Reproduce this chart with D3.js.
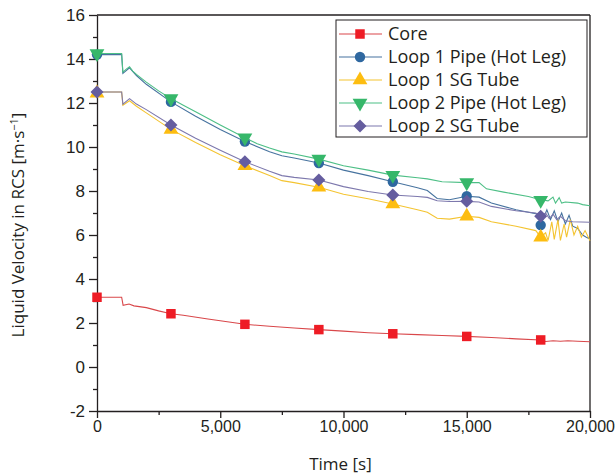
<!DOCTYPE html>
<html>
<head>
<meta charset="utf-8">
<script src="https://cdn.jsdelivr.net/npm/d3@7"></script>
<style>
  body { margin: 0; background: #fff; }
  svg { font-family: "Open Sans", "Noto Sans", sans-serif; }
  .axis path, .axis line { stroke: #231f20; stroke-width: 1.3; }
  .axis text { font-size: 17px; fill: #231f20; }
  .axis.x text { font-size: 16px; }
  .label { font-size: 17px; fill: #231f20; }
  .legend text { font-size: 18px; fill: #231f20; }
</style>
</head>
<body>
<svg width="615" height="476"></svg>
<script>
// time [s] / velocity [m/s] pairs
const core = [[0,3.17],[1000,3.17],[1060,2.8],[1300,2.86],[1500,2.78],[2000,2.7],[2500,2.55],[3000,2.42],[3500,2.35],
  [4500,2.18],[5000,2.1],[6000,1.94],[7000,1.85],[8000,1.77],[9000,1.7],[10000,1.63],[11000,1.56],[12000,1.51],
  [13000,1.47],[14000,1.43],[15000,1.39],[16000,1.34],[17000,1.28],[18000,1.23],[18200,1.16],[18500,1.19],
  [18800,1.17],[19100,1.19],[19500,1.17],[20000,1.15]];
const loop1Pipe = [[0,14.2],[1000,14.2],[1050,13.35],[1320,13.6],[1600,13.25],[2000,12.85],[3000,12.05],[4000,11.4],
  [5000,10.8],[6000,10.25],[7000,9.78],[7500,9.6],[8000,9.5],[9000,9.27],[10000,8.95],[11000,8.7],[12000,8.42],
  [13000,8.15],[13400,8.02],[13800,7.66],[14300,7.6],[15000,7.76],[15500,7.72],[16000,7.45],[17000,7.15],
  [17900,6.95],[18000,6.45],[18250,7.15],[18400,6.7],[18550,7.1],[18700,6.6],[18850,7.0],[19000,6.5],[19150,6.9],
  [19300,6.4],[19500,6.3],[19700,6.0],[19850,5.9],[20000,5.82]];
const loop1SG = [[0,12.5],[1000,12.5],[1050,11.9],[1320,12.1],[1600,11.85],[2000,11.55],[3000,10.8],[4000,10.2],
  [5000,9.65],[6000,9.15],[7000,8.7],[7500,8.47],[8000,8.38],[9000,8.17],[10000,7.85],[11000,7.65],[12000,7.41],
  [13000,7.15],[13400,7.03],[13800,6.76],[14300,6.72],[15000,6.85],[15500,6.8],[16000,6.6],[17000,6.4],[17800,6.2],
  [18000,5.9],[18200,6.1],[18300,5.75],[18450,6.6],[18550,5.8],[18700,6.7],[18800,5.75],[18950,6.5],[19050,5.9],
  [19200,6.7],[19350,6.0],[19500,6.4],[19650,5.9],[19800,6.2],[20000,5.74]];
const loop2Pipe = [[0,14.25],[1000,14.25],[1050,13.4],[1200,13.55],[1320,13.65],[1450,13.45],[1600,13.3],[2000,12.95],
  [2500,12.55],[3000,12.2],[3500,11.9],[4000,11.6],[5000,11.0],[6000,10.42],[6500,10.15],[7000,9.95],[7500,9.78],
  [8000,9.68],[9000,9.45],[10000,9.15],[11000,8.95],[12000,8.72],[13000,8.6],[13400,8.55],[14000,8.42],[15000,8.38],
  [15500,8.38],[15800,8.1],[16500,7.95],[17500,7.75],[18000,7.6],[18300,7.55],[18500,7.72],[18600,7.45],
  [18750,7.7],[18850,7.45],[19000,7.5],[19500,7.45],[19700,7.38],[20000,7.33]];
const loop2SG = [[0,12.5],[1000,12.5],[1050,11.95],[1320,12.2],[1600,11.95],[2000,11.7],[3000,11.0],[4000,10.4],
  [5000,9.85],[6000,9.33],[7000,8.9],[7500,8.7],[8000,8.62],[9000,8.5],[10000,8.2],[11000,7.98],[12000,7.82],
  [13000,7.75],[13400,7.71],[13800,7.56],[14300,7.52],[15000,7.53],[15500,7.5],[16000,7.3],[17000,7.1],[17800,7.0],
  [18000,6.85],[18200,7.0],[18350,6.75],[18500,6.95],[18650,6.7],[18800,6.85],[19000,6.65],[19300,6.6],[20000,6.58]];

// symbols every 3000 s
const markerTimes = [0, 3000, 6000, 9000, 12000, 15000, 18000];
const coreMarks = [3.17, 2.42, 1.94, 1.7, 1.51, 1.39, 1.23];
const loop1PipeMarks = [14.2, 12.05, 10.25, 9.27, 8.42, 7.76, 6.45];
const loop1SGMarks = [12.45, 10.8, 9.15, 8.17, 7.41, 6.85, 5.9];
const loop2PipeMarks = [14.25, 12.2, 10.42, 9.45, 8.72, 8.38, 7.58];
const loop2SGMarks = [12.5, 11.0, 9.33, 8.5, 7.82, 7.53, 6.85];

const seriesNames = ['Core', 'Loop 1 Pipe (Hot Leg)', 'Loop 1 SG Tube', 'Loop 2 Pipe (Hot Leg)', 'Loop 2 SG Tube'];
const xTicks = [0, 5000, 10000, 15000, 20000];
const yTicks = [-2, 0, 2, 4, 6, 8, 10, 12, 14, 16];

const series = [
  { name: seriesNames[0], line: core, marks: coreMarks, stroke: '#d9474a', fill: '#ee1c25', sym: d3.symbolSquare, size: 90, rot: 0 },
  { name: seriesNames[1], line: loop1Pipe, marks: loop1PipeMarks, stroke: '#47739f', fill: '#2f68a0', sym: d3.symbolCircle, size: 85, rot: 0 },
  { name: seriesNames[2], line: loop1SG, marks: loop1SGMarks, stroke: '#f4c431', fill: '#fdbd10', sym: d3.symbolTriangle, size: 95, rot: 0 },
  { name: seriesNames[3], line: loop2Pipe, marks: loop2PipeMarks, stroke: '#4dbf86', fill: '#36b76a', sym: d3.symbolTriangle, size: 95, rot: 180 },
  { name: seriesNames[4], line: loop2SG, marks: loop2SGMarks, stroke: '#7d78ad', fill: '#655d9f', sym: d3.symbolSquare, size: 85, rot: 45 }
];

const svg = d3.select('svg');
const mLeft = 97, mTop = 15, width = 493, height = 396;

const x = d3.scaleLinear().domain([0, 20000]).range([mLeft, mLeft + width]);
const y = d3.scaleLinear().domain([-2, 16]).range([mTop + height, mTop]);

// frame top/right
svg.append('line').attr('x1', mLeft).attr('x2', mLeft + width).attr('y1', mTop).attr('y2', mTop)
  .attr('stroke', '#231f20').attr('stroke-width', 1.3);
svg.append('line').attr('x1', mLeft + width).attr('x2', mLeft + width).attr('y1', mTop).attr('y2', mTop + height)
  .attr('stroke', '#231f20').attr('stroke-width', 1.3);

// minor ticks
svg.append('g').attr('class', 'axis')
  .attr('transform', `translate(0, ${mTop + height})`)
  .call(d3.axisBottom(x).tickValues(d3.range(2500, 20000, 5000)).tickSize(4).tickFormat(''))
  .call(g => g.select('.domain').remove());
svg.append('g').attr('class', 'axis')
  .attr('transform', `translate(${mLeft}, 0)`)
  .call(d3.axisLeft(y).tickValues(d3.range(-1, 16, 2)).tickSize(4).tickFormat(''))
  .call(g => g.select('.domain').remove());

svg.append('g').attr('class', 'axis x')
  .attr('transform', `translate(0, ${mTop + height})`)
  .call(d3.axisBottom(x).tickValues(xTicks).tickSize(7).tickSizeOuter(0).tickPadding(3).tickFormat(d3.format(',')));
svg.append('g').attr('class', 'axis')
  .attr('transform', `translate(${mLeft}, 0)`)
  .call(d3.axisLeft(y).tickValues(yTicks).tickSize(8).tickSizeOuter(0).tickPadding(4).tickFormat(d => String(d)));

const line = d3.line().x(d => x(d[0])).y(d => y(d[1]));

const plot = svg.append('g');
series.forEach(s => {
  plot.append('path')
    .datum(s.line)
    .attr('d', line)
    .attr('fill', 'none')
    .attr('stroke', s.stroke)
    .attr('stroke-width', 1.1);
  plot.selectAll(null)
    .data(s.marks)
    .join('path')
    .attr('d', d3.symbol(s.sym, s.size))
    .attr('transform', (d, i) => `translate(${x(markerTimes[i])}, ${y(d)}) rotate(${s.rot})`)
    .attr('fill', s.fill);
});

// legend
const legend = svg.append('g').attr('class', 'legend');
legend.append('rect')
  .attr('x', 336).attr('y', 20).attr('width', 251).attr('height', 117)
  .attr('fill', '#fff').attr('stroke', '#231f20').attr('stroke-width', 1);
series.forEach((s, i) => {
  const ly = 34 + i * 23;
  legend.append('line').attr('x1', 339).attr('x2', 382).attr('y1', ly).attr('y2', ly)
    .attr('stroke', s.stroke).attr('stroke-width', 1.1);
  legend.append('path')
    .attr('d', d3.symbol(s.sym, s.size))
    .attr('transform', `translate(360, ${ly}) rotate(${s.rot})`)
    .attr('fill', s.fill);
  legend.append('text').attr('x', 388).attr('y', ly).attr('dy', '0.35em').text(s.name);
});

// axis titles
svg.append('text')
  .attr('class', 'label')
  .attr('x', mLeft + width / 2 - 3)
  .attr('y', 470)
  .attr('text-anchor', 'middle')
  .text('Time [s]');

const yl = svg.append('text')
  .attr('class', 'label')
  .attr('transform', `translate(24, ${mTop + height / 2 + 12}) rotate(-90)`)
  .attr('text-anchor', 'middle')
  .attr('font-size', 17.5);
yl.append('tspan').text('Liquid Velocity in RCS [m·s');
yl.append('tspan').attr('dy', -6).attr('font-size', 11).text('−1');
yl.append('tspan').attr('dy', 6).text(']');
</script>
</body>
</html>
